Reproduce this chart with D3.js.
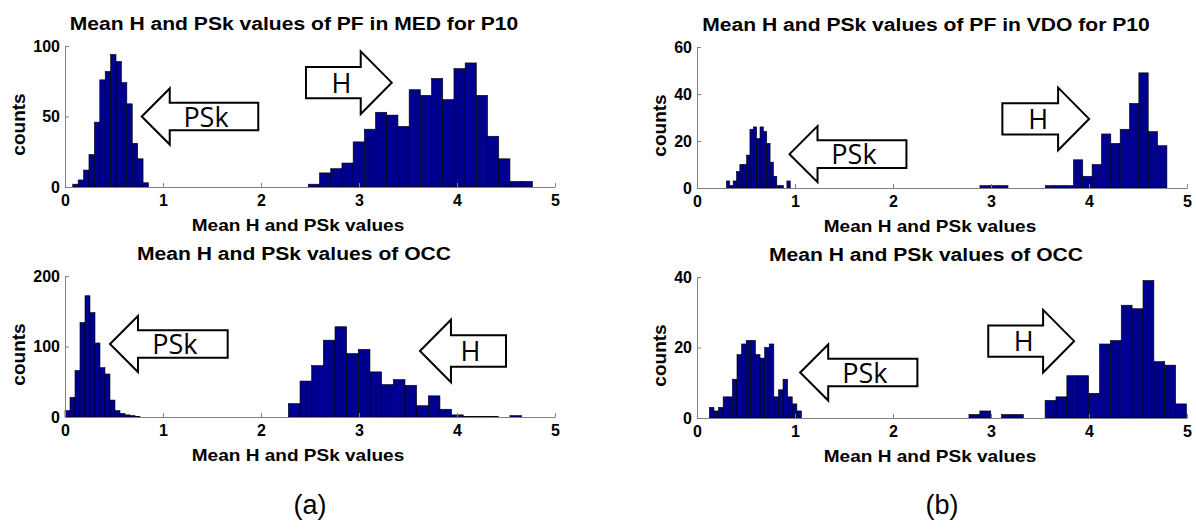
<!DOCTYPE html>
<html>
<head>
<meta charset="utf-8">
<script src="https://cdn.jsdelivr.net/npm/d3@7"></script>
<style>
  body { margin: 0; background: #fff; }
  .axis path, .axis line { stroke: #808080; }
  .axis text { font-family: "Liberation Sans", Arial, sans-serif; font-weight: bold; font-size: 16px; fill: #000; }
</style>
</head>
<body>
<script>
// four histograms: (a) MED top / OCC bottom, (b) VDO top / OCC bottom
var panelTitles = ["Mean H and PSk values of PF in MED for P10", "Mean H and PSk values of OCC",
                   "Mean H and PSk values of PF in VDO for P10", "Mean H and PSk values of OCC"];
var xLabel = "Mean H and PSk values";
var yLabel = "counts";
var xTicks = [0, 1, 2, 3, 4, 5];
var yMax = [100, 200, 60, 40];
var yTicks = [[0, 50, 100], [0, 100, 200], [0, 20, 40, 60], [0, 20, 40]];

// PSk histograms (first bin edge, bin width, counts)
var pskStart = [0.079, 0.0, 0.30, 0.126];
var pskWidth = [0.0552, 0.051, 0.0343, 0.047];
var pskCounts = [
  [2, 5, 12, 23, 46, 76, 82, 94, 89, 74, 59, 31, 20, 3],
  [9, 28, 66, 134, 172, 148, 105, 70, 61, 24, 9, 5, 3, 2, 1],
  [3, 1, 3, 7, 10, 10, 14, 25, 26, 21, 26, 24, 19, 11, 5, 1, 1, 0, 3],
  [3, 2, 3, 6, 6, 11, 18, 21, 22, 22, 18, 17, 20, 21, 6, 8, 11, 6, 4, 2]
];

// H histograms
var hStart = [2.483, 2.279, 2.887, 2.775];
var hWidth = [0.1143, 0.119, 0.0954, 0.111];
var hCounts = [
  [2, 10, 13, 17, 32, 41, 53, 51, 43, 69, 65, 77, 62, 84, 88, 65, 36, 20, 4, 4],
  [19, 51, 73, 109, 128, 90, 96, 64, 46, 53, 45, 16, 30, 11, 3, 1, 1, 1, 0, 2],
  [1, 1, 1, 0, 0, 0, 0, 1, 1, 1, 12, 5, 10, 23, 19, 25, 36, 49, 24, 18],
  [1, 2, 0, 1, 1, 0, 0, 5, 6, 12, 12, 7, 21, 22, 32, 31, 39, 16, 15, 4]
];

// annotation arrows, in data units (tip x, tail x, centre y)
var pskArrowTip = [0.783, 0.459, 0.944, 1.053];
var pskArrowTail = [1.972, 1.660, 2.137, 2.249];
var pskArrowY = [50, 103.5, 14.4, 12.9];
var hArrowTip = [3.334, 3.622, 4.001, 3.848];
var hArrowTail = [2.459, 4.5, 3.116, 2.972];
var hArrowY = [74, 93.6, 29.4, 21.8];

var subLabels = ["(a)", "(b)"];

var W = 1196, H = 532;
var panelLeft = [65, 65, 697, 697],
    panelTop = [46, 276, 47, 277],
    panelW = 490,
    panelH = 141;

var svg = d3.select("body").append("svg")
    .attr("width", W)
    .attr("height", H);

function arrowPath(tx, ex, cy, hl, hh, bh) {
  var dir = ex > tx ? 1 : -1;
  var hb = tx + dir * hl;
  var p = d3.path();
  p.moveTo(tx, cy);
  p.lineTo(hb, cy - hh);
  p.lineTo(hb, cy - bh);
  p.lineTo(ex, cy - bh);
  p.lineTo(ex, cy + bh);
  p.lineTo(hb, cy + bh);
  p.lineTo(hb, cy + hh);
  p.closePath();
  return p.toString();
}

for (var i = 0; i < 4; i++) {
  var g = svg.append("g")
      .attr("transform", "translate(" + panelLeft[i] + "," + panelTop[i] + ")");

  var x = d3.scaleLinear().domain([0, 5]).range([0, panelW]);
  var y = d3.scaleLinear().domain([0, yMax[i]]).range([panelH, 0]);

  // bins
  var bins = [];
  pskCounts[i].forEach(function(c, k) {
    bins.push({x0: pskStart[i] + k * pskWidth[i], x1: pskStart[i] + (k + 1) * pskWidth[i], c: c});
  });
  hCounts[i].forEach(function(c, k) {
    bins.push({x0: hStart[i] + k * hWidth[i], x1: hStart[i] + (k + 1) * hWidth[i], c: c});
  });

  g.selectAll(".bar")
      .data(bins.filter(function(d) { return d.c > 0; }))
    .enter().append("rect")
      .attr("class", "bar")
      .attr("x", function(d) { return x(d.x0); })
      .attr("width", function(d) { return x(d.x1) - x(d.x0); })
      .attr("y", function(d) { return y(d.c); })
      .attr("height", function(d) { return y(0) - y(d.c); })
      .attr("fill", "#00008f")
      .attr("stroke", "#000")
      .attr("stroke-width", 0.6);

  // axes, MATLAB style ticks pointing inward
  g.append("g")
      .attr("class", "axis")
      .attr("transform", "translate(0," + panelH + ")")
      .call(d3.axisBottom(x).tickValues(xTicks).tickFormat(d3.format("d"))
            .tickSizeInner(-4).tickSizeOuter(0).tickPadding(8));

  var ya = g.append("g")
      .attr("class", "axis")
      .call(d3.axisLeft(y).tickValues(yTicks[i]).tickFormat(d3.format("d"))
            .tickSizeInner(-4).tickSizeOuter(0).tickPadding(5));

  var tickLeft = 0;
  ya.selectAll(".tick text").each(function() {
    var b = this.getBBox();
    tickLeft = Math.min(tickLeft, b.x);
  });

  // titles and labels
  g.append("text")
      .attr("transform", "translate(" + (panelW / 2 - 16) + ",-16) scale(1.14,1)")
      .attr("text-anchor", "middle")
      .style("font-family", "Liberation Sans, Arial, sans-serif")
      .style("font-weight", "bold")
      .style("font-size", "18.5px")
      .text(panelTitles[i]);

  g.append("text")
      .attr("transform", "translate(" + (panelW / 2 - 12) + "," + (panelH + 44) + ") scale(1.12,1)")
      .attr("text-anchor", "middle")
      .style("font-family", "Liberation Sans, Arial, sans-serif")
      .style("font-weight", "bold")
      .style("font-size", "17px")
      .text(xLabel);

  g.append("text")
      .attr("transform", "translate(" + (tickLeft - 8) + "," + (panelH / 2 + 8) + ") rotate(-90)")
      .attr("text-anchor", "middle")
      .style("font-family", "Liberation Sans, Arial, sans-serif")
      .style("font-weight", "bold")
      .style("font-size", "19px")
      .text(yLabel);

  // arrows
  var arrows = [
    {tip: pskArrowTip[i], tail: pskArrowTail[i], cy: pskArrowY[i], label: "PSk", hl: 28, hh: 28, bh: 13.8},
    {tip: hArrowTip[i], tail: hArrowTail[i], cy: hArrowY[i], label: "H", hl: 31, hh: 31.3, bh: 15.7}
  ];
  arrows.forEach(function(a) {
    var tx = x(a.tip), ex = x(a.tail), cy = y(a.cy);
    var dir = ex > tx ? 1 : -1;
    g.append("path")
        .attr("d", arrowPath(tx, ex, cy, a.hl, a.hh, a.bh))
        .attr("fill", "#fff")
        .attr("stroke", "#000")
        .attr("stroke-width", 2);
    var mid = (tx + dir * a.hl + ex) / 2 - dir * 8;
    g.append("text")
        .attr("x", mid)
        .attr("y", cy + 10)
        .attr("text-anchor", "middle")
        .style("font-family", "Open Sans, sans-serif")
        .style("font-size", "27px")
        .text(a.label);
  });
}

// sub-figure labels
svg.selectAll(".sub")
    .data(subLabels)
  .enter().append("text")
    .attr("class", "sub")
    .attr("x", function(d, k) { return panelLeft[k * 2] + panelW / 2; })
    .attr("y", 514)
    .attr("text-anchor", "middle")
    .style("font-family", "Liberation Sans, Arial, sans-serif")
    .style("font-size", "27px")
    .text(function(d) { return d; });
</script>
</body>
</html>
